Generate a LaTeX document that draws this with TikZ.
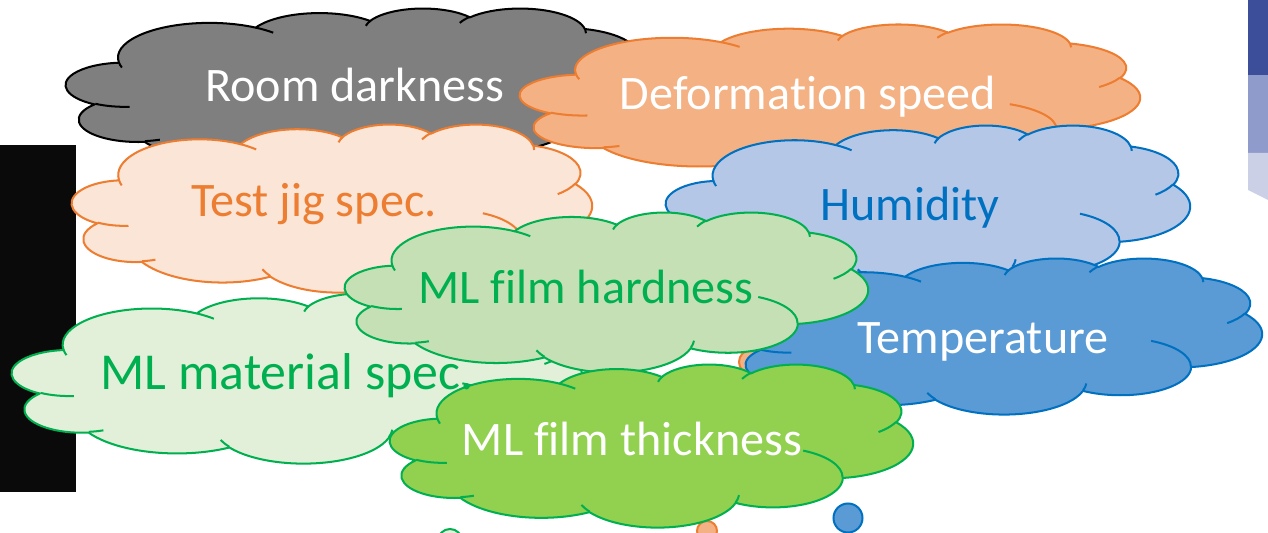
\documentclass[tikz,border=0pt]{standalone}
\usepackage{fontspec}
\setmainfont{Carlito}[Ligatures=CommonOff]
\definecolor{olgray}{HTML}{7F7F7F}
\definecolor{orfill}{HTML}{F4B183}
\definecolor{orline}{HTML}{ED7D31}
\definecolor{pefill}{HTML}{FBE5D6}
\definecolor{lbfill}{HTML}{B4C7E7}
\definecolor{blline}{HTML}{0070C0}
\definecolor{mbfill}{HTML}{5B9BD5}
\definecolor{grline}{HTML}{00B050}
\definecolor{g1fill}{HTML}{E2F0D9}
\definecolor{g2fill}{HTML}{C5E0B4}
\definecolor{g3fill}{HTML}{92D050}
\definecolor{imgA}{HTML}{3C4E9A}
\definecolor{imgB}{HTML}{8E9BCB}
\definecolor{imgC}{HTML}{CBD0E6}
\definecolor{blk}{HTML}{0A0A0A}
% convert an OOXML arcTo (geometric angles) to a TikZ arc style
\newcommand\mkarc[5]{%
  \pgfmathsetmacro\mkth{#4}%
  \pgfmathsetmacro\mkd{atan2((#2)*sin(\mkth),(#3)*cos(\mkth))-(\mkth)}%
  \pgfmathsetmacro\mkd{\mkd-360*round(\mkd/360)}%
  \pgfmathsetmacro\mks{\mkth+\mkd}%
  \pgfmathsetmacro\mkth{(#4)+(#5)}%
  \pgfmathsetmacro\mkd{atan2((#2)*sin(\mkth),(#3)*cos(\mkth))-(\mkth)}%
  \pgfmathsetmacro\mkd{\mkd-360*round(\mkd/360)}%
  \pgfmathsetmacro\mke{\mkth+\mkd}%
  \edef\mktmp{\noexpand\tikzset{#1/.style={start angle=\mks,end angle=\mke,x radius=#2,y radius=#3}}}%
  \mktmp}
\mkarc{caA}{6.753}{9.19}{-190.487483}{123.780533}
\mkarc{caB}{5.333}{7.267}{-144.102383}{89.945233}
\mkarc{caC}{4.365}{5.945}{-145.807917}{99.723017}
\mkarc{caD}{4.857}{6.595}{-130.986067}{117.241733}
\mkarc{caE}{5.333}{7.273}{-78.708883}{109.026917}
\mkarc{caF}{6.775}{9.22}{-46.26725}{130.269}
\mkarc{caG}{5.785}{7.867}{0.625017}{114.033333}
\mkarc{caH}{6.752}{9.215}{22.4516}{115.17255}
\mkarc{caI}{7.72}{10.543}{66.242633}{75.711017}
\mkarc{caJ}{4.36}{5.918}{-274.942083}{146.735567}
\mkarc{caK}{4.345}{5.945}{-246.8285}{152.51885}
\mkarc{csA}{4.345}{5.945}{86.742}{26.4295}
\mkarc{csB}{4.36}{5.918}{73.61047}{11.44747}
\mkarc{csC}{6.752}{9.215}{137.62415}{14.0811}
\mkarc{csD}{6.752}{9.215}{6.45327}{15.99835}
\mkarc{csE}{5.785}{7.867}{-70.29235}{70.91737}
\mkarc{csF}{5.333}{7.273}{30.31803}{27.7515}
\mkarc{csG}{4.857}{6.595}{-13.74433}{14.8589}
\mkarc{csH}{4.857}{6.595}{-149.18145}{18.19537}
\mkarc{csI}{4.365}{5.945}{-163.49427}{17.68635}
\mkarc{csJ}{6.753}{9.19}{-66.70695}{12.31935}
\mkarc{csK}{6.753}{9.19}{157.65435}{11.85817}
% cloud: left, top, width, height (px), fill, line
\newcommand\pcloud[6]{%
  \pgfmathsetmacro\pcw{#3*0.02/43.2}%
  \pgfmathsetmacro\pch{#4*0.02/43.2}%
  \begin{scope}[shift={(#1,#2)},x={(\pcw cm,0cm)},y={(0cm,-\pch cm)}]
    \filldraw[fill=#5,draw=#6,cloudline]
      (3.9,14.37) arc[caA] arc[caB] arc[caC] arc[caD] arc[caE] arc[caF]
      arc[caG] arc[caH] arc[caI] arc[caJ] arc[caK] -- cycle;
    \draw[draw=#6,cloudline]
      (4.693,26.177) arc[csA] (6.928,34.899) arc[csB]
      (16.478,39.09) arc[csC] (28.827,34.751) arc[csD]
      (34.129,22.954) arc[csE] (41.798,15.354) arc[csF]
      (38.324,5.426) arc[csG] (29.078,3.952) arc[csH]
      (22.141,4.72) arc[csI] (14,5.192) arc[csJ]
      (4.127,15.789) arc[csK];
  \end{scope}}
\tikzset{
  cloudline/.style={line width=1.15pt,line join=round},
  cloudtext/.style={anchor=base,inner sep=0pt,font=\fontsize{27.4}{33}\selectfont},
  bigtext/.style={anchor=base,inner sep=0pt,font=\fontsize{29.5}{35}\selectfont},
  tailcircle/.style={line width=1.15pt,circle,inner sep=0pt}
}
\begin{document}
\begin{tikzpicture}[x=0.02cm,y=-0.02cm]
\useasboundingbox (0,0) rectangle (1268,533);
\clip (0,0) rectangle (1268,533);
% background pieces
\fill[blk] (0,145) rectangle (76,492);
\fill[imgA] (1248,0) rectangle (1268,75);
\fill[imgB] (1248,75) rectangle (1268,153);
\fill[imgC] (1248,153) -- (1268,153) -- (1268,200) -- (1248,190) -- cycle;
% Room darkness
\pcloud{66}{8}{585}{163}{olgray}{black}
\node[cloudtext,text=white] (room) at (355,102) {Room darkness};
% Deformation speed
\pcloud{520}{24}{620}{151}{orfill}{orline}
\node[cloudtext,text=white] (deform) at (808,110) {Deformation speed};
\node[tailcircle,draw=orline,fill=orfill,minimum size=24*0.02cm] (dtailA) at (751,362) {};
\node[tailcircle,draw=orline,fill=orfill,minimum size=20*0.02cm] (dtailB) at (707,531) {};
% Test jig spec.
\pcloud{72}{124}{520}{168}{pefill}{orline}
\node[cloudtext,text=orline] (jig) at (314,217) {Test jig spec.};
% Humidity
\pcloud{666}{125}{524}{167}{lbfill}{blline}
\node[cloudtext,text=blline] (hum) at (910,221) {Humidity};
% Temperature
\pcloud{734}{258}{528}{156}{mbfill}{blline}
\node[cloudtext,text=white] (temp) at (983,354) {Temperature};
\node[tailcircle,draw=blline,fill=mbfill,minimum size=29*0.02cm] (ttail) at (848,518) {};
% ML material spec.
\pcloud{12}{293}{570}{170}{g1fill}{grline}
\node[tailcircle,draw=grline,fill=g1fill,minimum size=24*0.02cm] (mtail) at (450,541) {};
% ML film hardness
\pcloud{345}{212}{523}{160}{g2fill}{grline}
\node[cloudtext,text=grline] (hard) at (586,304) {ML film hardness};
% ML film thickness
\pcloud{390}{364}{523}{163}{g3fill}{grline}
\node[cloudtext,text=white] (thick) at (632,456) {ML film thickness};
% material text kept readable in front
\node[bigtext,text=grline] (mat) at (287,390) {ML material spec.};
\end{tikzpicture}
\end{document}
